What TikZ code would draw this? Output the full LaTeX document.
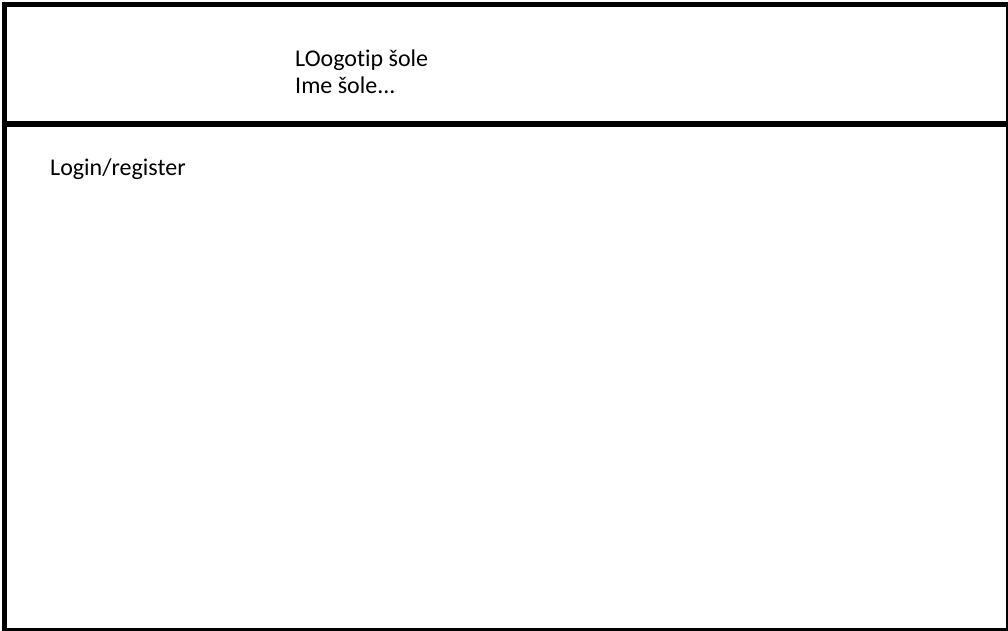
\documentclass[tikz,border=0pt]{standalone}
\usepackage{fontspec}
\setmainfont{Carlito}[Ligatures={NoCommon}]
\tikzset{
  frame/.style={draw=black, line width=4.5pt},
  divider/.style={draw=black, line width=6pt},
  label/.style={inner sep=0pt, anchor=base west, font=\fontsize{24}{27}\selectfont},
}
\begin{document}
\begin{tikzpicture}[x=1pt,y=-1pt]
\useasboundingbox (0,0) rectangle (1008,630);
\fill[white] (0,0) rectangle (1008,630);
\node[frame, rectangle, minimum width=1003.5pt, minimum height=625.5pt, inner sep=0pt, anchor=north west] (outer) at (2.25,2.25) {};
\coordinate (dl) at (2.25,124);
\coordinate (dr) at (1005.75,124);
\draw[divider] (dl) -- (dr);
\node[label] (logo) at (295,66) {LOogotip šole};
\node[label] (name) at (295,93) {Ime šole...};
\node[label] (login) at (50,175) {Login/register};
\end{tikzpicture}
\end{document}
